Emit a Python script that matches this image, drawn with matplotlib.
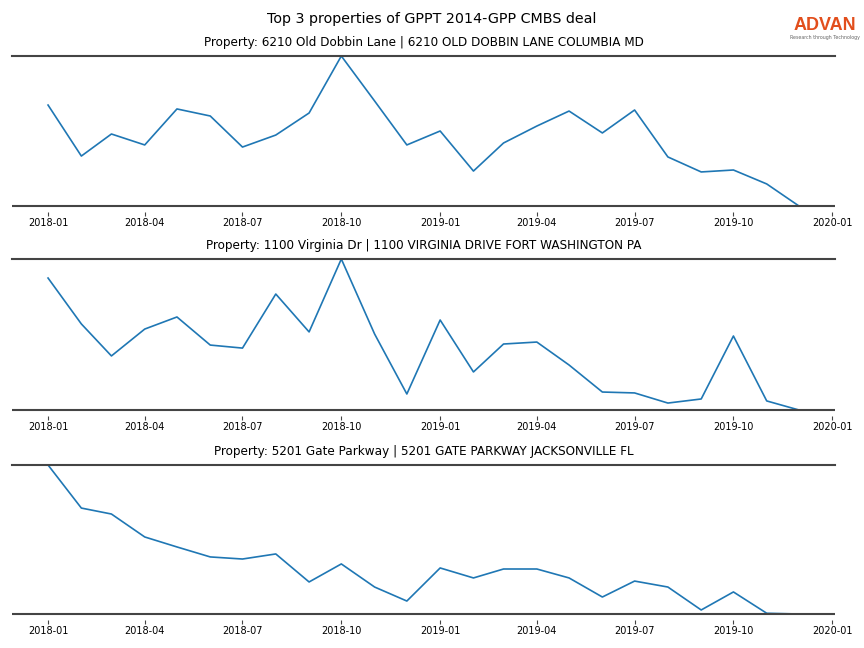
import matplotlib
matplotlib.use("Agg")
import matplotlib.pyplot as plt
import matplotlib.dates as mdates
import pandas as pd

months = pd.date_range("2018-01-01", "2019-12-01", freq="MS")

titles = [
    "Property: 6210 Old Dobbin Lane | 6210 OLD DOBBIN LANE COLUMBIA MD",
    "Property: 1100 Virginia Dr | 1100 VIRGINIA DRIVE FORT WASHINGTON PA",
    "Property: 5201 Gate Parkway | 5201 GATE PARKWAY JACKSONVILLE FL",
]

visits_1 = [67.3, 33.3, 48.0, 40.7, 64.7, 60.0, 39.3, 47.3, 62.0, 100.0, 70.0, 40.7,
            50.0, 23.3, 42.0, 53.3, 63.3, 48.7, 64.0, 32.7, 22.7, 24.0, 14.7, 0.0]
visits_2 = [87.4, 57.0, 35.8, 53.6, 61.6, 43.0, 41.0, 76.8, 51.7, 100.0, 50.3, 10.6,
            59.6, 25.2, 43.7, 45.0, 29.8, 11.9, 11.3, 4.6, 7.3, 49.0, 6.0, 0.0]
visits_3 = [100.0, 71.1, 67.1, 51.7, 45.0, 38.3, 36.9, 40.3, 21.5, 33.6, 18.1, 8.7,
            30.9, 24.2, 30.2, 30.2, 24.2, 11.4, 22.1, 18.1, 2.7, 14.8, 0.5, 0.0]
series = [visits_1, visits_2, visits_3]

fig = plt.figure(figsize=(8.64, 6.48), dpi=100)
fig.suptitle("Top 3 properties of GPPT 2014-GPP CMBS deal", y=0.982, fontsize=10.3)

boxes = [(56, 206), (259, 410), (465, 614)]
left, right = 12 / 864, 835 / 864
for (top, bot), vals, title in zip(boxes, series, titles):
    ax = fig.add_axes([left, 1 - bot / 648, right - left, (bot - top) / 648])
    ax.plot(months, vals, color="#1f77b4", linewidth=1.2)
    ax.set_title(title, fontsize=8.65, pad=7.5)
    ax.margins(x=0.048, y=0)
    for s in ["left", "right"]:
        ax.spines[s].set_visible(False)
    ax.spines["top"].set_color("#444444")
    ax.spines["top"].set_linewidth(1.5)
    # ticks sit a little below the frame line
    ax.spines["bottom"].set_position(("outward", 4.2))
    ax.spines["bottom"].set_visible(False)
    ax.plot([0, 1], [0, 0], transform=ax.transAxes, color="#444444",
            linewidth=1.5, clip_on=False, solid_capstyle="butt")
    ax.set_yticks([])
    ax.xaxis.set_major_locator(mdates.MonthLocator(bymonth=[1, 4, 7, 10]))
    ax.xaxis.set_major_formatter(mdates.DateFormatter("%Y-%m"))
    ax.tick_params(axis="x", labelsize=7, length=3, width=0.8, color="#444444", pad=1.5)

fig.text(0.955, 0.9614, "ADVAN", color="#E24E1C", fontsize=13, ha="center",
         va="center", family="Liberation Sans", fontweight="bold")
fig.text(0.955, 0.9414, "Research through Technology", color="#666666", fontsize=3.4,
         ha="center", va="center")

fig.savefig("out.png", dpi=100)
